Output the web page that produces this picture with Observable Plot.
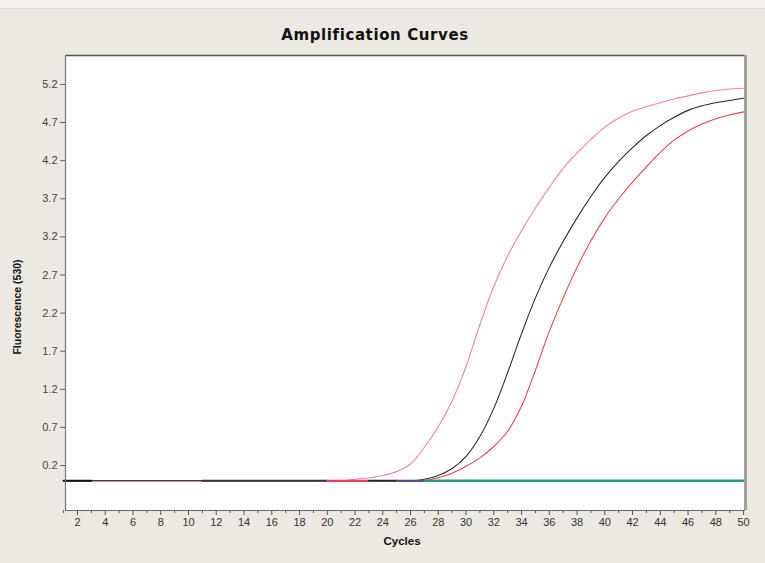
<!DOCTYPE html>
<html>
<head>
<meta charset="utf-8">
<script src="https://cdn.jsdelivr.net/npm/d3@7"></script>
<script src="https://cdn.jsdelivr.net/npm/@observablehq/plot@0.6"></script>
<style>
  html, body { margin: 0; padding: 0; background: #ece9e2; }
  #wrap { position: relative; width: 765px; height: 563px; overflow: hidden; background: #ece9e2; }
  #topband { position: absolute; left: 0; top: 0; width: 765px; height: 8px; background: #f3f1ed; border-bottom: 1px solid #dedbd4; }
  #title { position: absolute; left: 0; width: 750px; top: 26px; text-align: center;
           font-family: "DejaVu Sans", sans-serif; font-weight: bold; font-size: 15px; letter-spacing: 0.6px; color: #111; }
  #ylabel { position: absolute; left: 17px; top: 307px; transform: translate(-50%, -50%) rotate(-90deg);
            font-family: "Liberation Sans", sans-serif; font-weight: bold; font-size: 10.5px; color: #111; white-space: nowrap; }
  #xlabel { position: absolute; left: 402px; top: 541px; transform: translate(-50%, -50%);
            font-family: "Liberation Sans", sans-serif; font-weight: bold; font-size: 11.5px; color: #111; }
  svg { position: absolute; left: 0; top: 0; }
</style>
</head>
<body>
<div id="wrap">
  <div id="topband"></div>
  <div id="title">Amplification Curves</div>
  <div id="ylabel">Fluorescence (530)</div>
  <div id="xlabel">Cycles</div>
</div>
<script>
// ---- data ----
const cycles = [1,2,3,4,5,6,7,8,9,10,11,12,13,14,15,16,17,18,19,20,21,22,23,24,25,26,27,28,29,30,31,32,33,34,35,36,37,38,39,40,41,42,43,44,45,46,47,48,49,50];

const pinkValues = [0,0,0,0,0,0,0,0,0,0,0,0,0,0,0,0,0,0,0,0,0,
  0.02,0.04,0.07,0.12,0.22,0.44,0.71,1.05,1.50,2.05,2.55,2.95,3.28,3.58,3.85,4.10,4.30,4.48,4.64,4.76,4.85,4.91,4.96,5.01,5.05,5.09,5.12,5.14,5.15];

const blackValues = [0,0,0,0,0,0,0,0,0,0,0,0,0,0,0,0,0,0,0,0,0,0,0,0,0,0,
  0.02,0.07,0.16,0.32,0.58,0.95,1.42,1.93,2.40,2.80,3.14,3.45,3.73,3.98,4.19,4.37,4.53,4.66,4.77,4.86,4.92,4.96,4.99,5.02];

const redValues = [0,0,0,0,0,0,0,0,0,0,0,0,0,0,0,0,0,0,0,0,0,0,0,0,0,0,0,
  0.04,0.10,0.19,0.30,0.45,0.65,0.98,1.45,1.96,2.40,2.80,3.15,3.45,3.70,3.92,4.12,4.31,4.47,4.59,4.68,4.75,4.80,4.84];

// flat (non-amplifying) traces along the baseline: cycles and values
const negA_cycles = [1,2,3];
const negA_values = [0,0,0];
const negB_cycles = [11,12,13,14,15,16,17,18,19,20];
const negB_values = [0,0,0,0,0,0,0,0,0,0];
const negC_cycles = [20,21,22,23];
const negC_values = [0,0,0,0];
const negD_cycles = [23,24,25];
const negD_values = [0,0,0];
const negE_cycles = [25,26,27];
const negE_values = [0,0,0];
const ntc_cycles = [27,28,29,30,31,32,33,34,35,36,37,38,39,40,41,42,43,44,45,46,47,48,49,50];
const ntc_values = [0,0,0,0,0,0,0,0,0,0,0,0,0,0,0,0,0,0,0,0,0,0,0,0];

const xTicks = [2,4,6,8,10,12,14,16,18,20,22,24,26,28,30,32,34,36,38,40,42,44,46,48,50];
const xMinorTicks = [1,3,5,7,9,11,13,15,17,19,21,23,25,27,29,31,33,35,37,39,41,43,45,47,49];
const yTicks = [0.2,0.7,1.2,1.7,2.2,2.7,3.2,3.7,4.2,4.7,5.2];

// ---- build tables ----
const toRows = (xs, ys) => xs.map((c, i) => ({cycle: c, value: ys[i]}));
const pink = toRows(cycles, pinkValues);
const black = toRows(cycles, blackValues);
const red = toRows(cycles, redValues);
const negA = toRows(negA_cycles, negA_values);
const negB = toRows(negB_cycles, negB_values);
const negC = toRows(negC_cycles, negC_values);
const negD = toRows(negD_cycles, negD_values);
const negE = toRows(negE_cycles, negE_values);
const ntc = toRows(ntc_cycles, ntc_values);

const xDomain = [1.135, 50.14];
const yDomain = [-0.39, 5.58];

const lineOpts = (stroke, w, curve = "catmull-rom") => ({x: "cycle", y: "value", stroke, strokeWidth: w, curve});

const chart = Plot.plot({
  width: 765,
  height: 563,
  marginLeft: 65,
  marginRight: 20,
  marginTop: 55,
  marginBottom: 53,
  style: {fontFamily: "Liberation Sans, sans-serif", fontSize: "11px", color: "#333", background: "transparent", overflow: "visible"},
  x: {domain: xDomain, label: null},
  y: {domain: yDomain, label: null},
  marks: [
    Plot.frame({fill: "white", stroke: "none"}),
    Plot.axisX({ticks: xMinorTicks, tickSize: 3, tickFormat: () => "", stroke: "#555"}),
    Plot.axisX({ticks: xTicks, tickSize: 5, tickPadding: 3, tickFormat: d => String(d), stroke: "#555", fill: "#333"}),
    Plot.axisY({ticks: yTicks, tickSize: 5, tickPadding: 3, tickFormat: d => d.toFixed(1), stroke: "#666", fill: "#444"}),
    Plot.line(pink, lineOpts("#f0849e", 1.1)),
    Plot.line(red, lineOpts("#e4444c", 1.1)),
    Plot.line(black, lineOpts("#2a2a2a", 1.1)),
    Plot.line(negB, lineOpts("#3a3039", 2, "linear")),
    Plot.line(negC, lineOpts("#ec3d62", 2.2, "linear")),
    Plot.line(negD, lineOpts("#2f2530", 2, "linear")),
    Plot.line(negE, lineOpts("#5a4a86", 2.2, "linear")),
    Plot.line(ntc, lineOpts("#2f9a7c", 2.4, "linear")),
    Plot.line(negA, lineOpts("#111", 2, "linear")),
    Plot.ruleY([yDomain[1]], {stroke: "#555", strokeWidth: 1.5}),
    Plot.ruleY([yDomain[0]], {stroke: "#666", strokeWidth: 1.2}),
    Plot.ruleX([xDomain[0]], {stroke: "#777", strokeWidth: 1.2}),
    Plot.ruleX([xDomain[1]], {stroke: "#a2a2a2", strokeWidth: 3})
  ]
});
document.getElementById("wrap").appendChild(chart);
</script>
</body>
</html>
